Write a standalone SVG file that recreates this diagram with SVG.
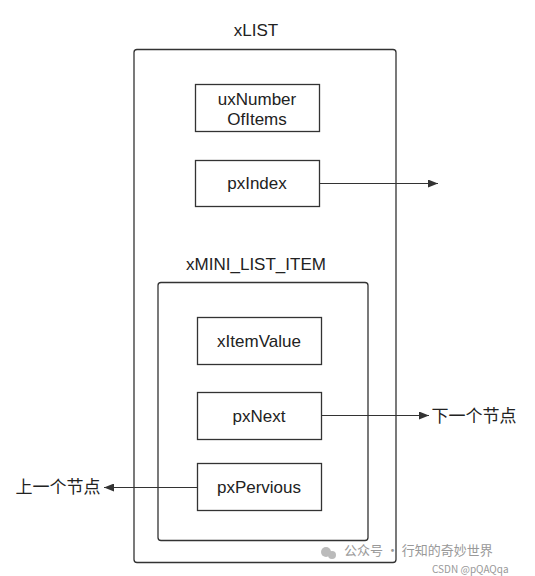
<svg xmlns="http://www.w3.org/2000/svg" width="535" height="576" viewBox="0 0 535 576">
<style>
.box{fill:#fff;stroke:#333;stroke-width:1.3}
.t{font-family:"Liberation Sans","Noto Sans CJK SC",sans-serif;font-size:17px;fill:#222;text-anchor:middle;dominant-baseline:central}
.c{stroke:#333;stroke-width:1.2;fill:none}
.wm{font-family:"Noto Sans CJK SC","Liberation Sans",sans-serif;fill:#999}
</style>
<defs>
<marker id="ah" markerWidth="10" markerHeight="8" refX="10" refY="4" orient="auto" markerUnits="userSpaceOnUse">
<path d="M0,0 L10,4 L0,8 Z" fill="#333"/>
</marker>
</defs>
<rect width="535" height="576" fill="#fff"/>
<g id="xLIST">
<rect class="box" x="134" y="49.5" width="262" height="513" rx="3"/>
<text class="t" x="256" y="30">xLIST</text>
</g>
<g id="uxNumberOfItems">
<rect class="box" x="195.5" y="84.5" width="124" height="47"/>
<text class="t" x="257" y="99">uxNumber</text>
<text class="t" x="257" y="119">OfItems</text>
</g>
<g id="pxIndex">
<rect class="box" x="195.5" y="160.5" width="124" height="46"/>
<text class="t" x="257" y="183">pxIndex</text>
</g>
<g id="xMINI_LIST_ITEM">
<rect class="box" x="158" y="282.5" width="210" height="258" rx="3"/>
<text class="t" x="256" y="264">xMINI_LIST_ITEM</text>
</g>
<g id="xItemValue">
<rect class="box" x="197.5" y="317.5" width="124" height="47"/>
<text class="t" x="259" y="341">xItemValue</text>
</g>
<g id="pxNext">
<rect class="box" x="197.5" y="392.5" width="124" height="47"/>
<text class="t" x="259" y="416">pxNext</text>
</g>
<g id="pxPervious">
<rect class="box" x="197.5" y="463.5" width="124" height="47"/>
<text class="t" x="259" y="487">pxPervious</text>
</g>
<g id="next-label"><text class="t" x="474" y="416">下一个节点</text></g>
<g id="prev-label"><text class="t" x="58" y="487">上一个节点</text></g>
<g id="connectors">
<line class="c" x1="319.5" y1="183.5" x2="438" y2="183.5" marker-end="url(#ah)"/>
<line class="c" x1="321.5" y1="415.5" x2="429" y2="415.5" marker-end="url(#ah)"/>
<line class="c" x1="197.5" y1="487.5" x2="104" y2="487.5" marker-end="url(#ah)"/>
</g>
<g id="watermark">
<circle cx="326" cy="552" r="5" fill="#bbb"/>
<circle cx="332" cy="555" r="4" fill="#bbb"/>
<text class="wm" x="344" y="555" font-size="13">公众号 · 行知的奇妙世界</text>
<text class="wm" x="432" y="573" font-size="10" fill="#777">CSDN @pQAQqa</text>
</g>
</svg>
